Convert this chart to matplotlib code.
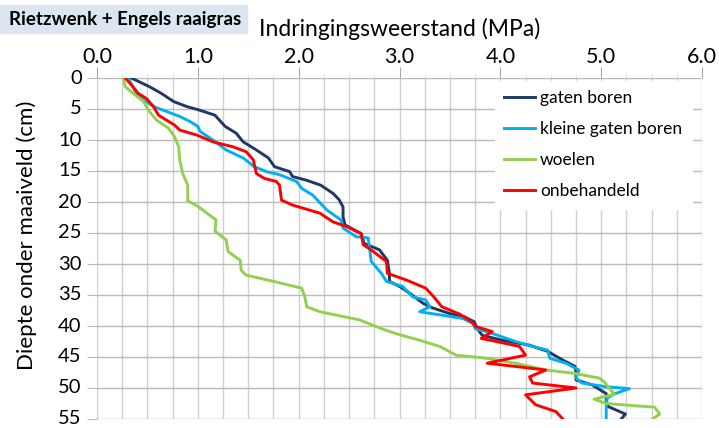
import matplotlib
matplotlib.use("Agg")
import matplotlib.pyplot as plt
from matplotlib.patches import Rectangle
from matplotlib.ticker import MultipleLocator

plt.rcParams["font.family"] = ["Lato", "DejaVu Sans"]

# depth (cm) and penetration resistance (MPa) per treatment
depth_gaten = [0, 1.4, 2.5, 3.8, 4.6, 5.2, 6.0, 7.8, 8.9, 10.3, 11.6, 12.9, 14.3, 15.1, 15.9,
               16.5, 17.3, 18.6, 19.6, 20.8, 22.4, 23.7, 25.1, 26.7, 27.7, 29.4, 31.5, 32.8,
               33.6, 34.7, 36.3, 37.1, 38.0, 38.5, 39.3, 40.4, 41.5, 42.3, 43.1, 44.1, 45.5,
               46.5, 47.4, 48.7, 49.5, 50.9, 52.5, 53.0, 54.2, 55]
mpa_gaten = [0.34, 0.52, 0.64, 0.76, 0.89, 1.02, 1.17, 1.27, 1.38, 1.45, 1.58, 1.70, 1.76, 1.91,
             1.94, 2.08, 2.22, 2.34, 2.40, 2.44, 2.44, 2.46, 2.62, 2.65, 2.80, 2.88, 2.90, 2.90,
             3.00, 3.10, 3.23, 3.33, 3.50, 3.64, 3.74, 3.77, 3.82, 4.02, 4.29, 4.47, 4.62, 4.74,
             4.75, 4.75, 4.91, 5.05, 5.05, 5.07, 5.24, 5.20]

depth_klein = [0, 2.5, 3.5, 4.6, 5.4, 6.2, 7.0, 7.8, 8.6, 10.0, 11.6, 12.9, 14.3, 15.1, 15.6,
               16.7, 17.8, 18.9, 21.3, 22.9, 24.2, 25.6, 25.8, 27.2, 29.6, 31.5, 32.8, 33.6,
               35.3, 35.8, 36.9, 37.7, 38.2, 38.8, 39.6, 40.4, 41.2, 42.5, 43.3, 43.9, 45.2,
               46.0, 47.1, 48.4, 49.2, 49.8, 50.1, 50.9, 51.6, 53.0, 55]
mpa_klein = [0.31, 0.39, 0.46, 0.56, 0.69, 0.82, 0.92, 1.00, 1.02, 1.15, 1.28, 1.45, 1.56, 1.68,
             1.81, 1.98, 2.03, 2.14, 2.28, 2.42, 2.44, 2.57, 2.69, 2.70, 2.72, 2.82, 2.87, 3.03,
             3.13, 3.26, 3.30, 3.20, 3.40, 3.63, 3.73, 3.75, 3.92, 4.15, 4.32, 4.47, 4.49, 4.65,
             4.78, 4.75, 4.81, 5.05, 5.28, 5.14, 5.06, 5.05, 5.05]

depth_woelen = [0, 1.4, 2.5, 3.8, 5.4, 6.8, 8.1, 9.5, 11.1, 13.2, 15.4, 17.3, 19.8, 20.7, 22.9,
                24.7, 26.1, 28.0, 29.4, 31.0, 31.8, 32.8, 33.9, 35.2, 36.9, 37.7, 39.0, 40.6,
                41.4, 42.3, 43.3, 44.7, 45.2, 46.0, 47.1, 47.6, 48.4, 49.0, 51.0, 51.8, 52.5,
                53.1, 54.2, 55]
mpa_woelen = [0.26, 0.28, 0.36, 0.46, 0.52, 0.59, 0.71, 0.77, 0.81, 0.82, 0.85, 0.90, 0.90,
              1.00, 1.18, 1.17, 1.28, 1.30, 1.42, 1.43, 1.48, 1.75, 2.03, 2.06, 2.08, 2.21,
              2.60, 2.85, 3.00, 3.20, 3.40, 3.56, 3.86, 4.15, 4.45, 4.72, 4.98, 5.03, 5.13,
              4.93, 5.05, 5.53, 5.58, 5.51]

depth_onbeh = [0, 1.1, 2.5, 3.3, 4.6, 6.0, 6.8, 7.6, 8.4, 9.2, 10.3, 11.1, 11.9, 13.2, 15.4,
               16.2, 16.7, 17.3, 19.7, 20.5, 21.8, 23.2, 24.0, 25.1, 26.9, 27.5, 29.6, 31.5,
               32.6, 33.9, 35.3, 36.9, 38.1, 39.3, 40.1, 40.9, 42.0, 42.5, 43.3, 44.7, 46.0,
               46.6, 47.1, 48.2, 49.2, 50.0, 51.1, 52.7, 53.8, 55]
mpa_onbeh = [0.28, 0.34, 0.41, 0.49, 0.56, 0.61, 0.69, 0.77, 0.82, 0.99, 1.15, 1.35, 1.48,
             1.55, 1.58, 1.66, 1.78, 1.81, 1.83, 1.94, 2.21, 2.34, 2.48, 2.62, 2.64, 2.70,
             2.87, 2.88, 3.07, 3.26, 3.34, 3.42, 3.60, 3.71, 3.76, 3.92, 3.81, 3.96, 4.19,
             4.25, 3.87, 4.19, 4.45, 4.29, 4.32, 4.75, 4.25, 4.35, 4.55, 4.62]

series = [
    ("gaten boren", depth_gaten, mpa_gaten, "#1f3864"),
    ("kleine gaten boren", depth_klein, mpa_klein, "#00b0f0"),
    ("woelen", depth_woelen, mpa_woelen, "#92d050"),
    ("onbehandeld", depth_onbeh, mpa_onbeh, "#ff0000"),
]

fig = plt.figure(figsize=(7.19, 4.28), dpi=100)
ax = fig.add_axes([97 / 719, 1 - 419 / 428, 605 / 719, 341 / 428])

for name, d, v, c in series:
    ax.plot(v, d, color=c, lw=2.1, label=name, solid_joinstyle="round")

ax.set_xlim(0, 6)
ax.set_ylim(55, 0)
ax.xaxis.tick_top()
ax.xaxis.set_label_position("top")
ax.xaxis.set_major_locator(MultipleLocator(1))
ax.xaxis.set_minor_locator(MultipleLocator(0.25))
ax.yaxis.set_major_locator(MultipleLocator(5))
ax.set_xticklabels([f"{t:.1f}" for t in ax.get_xticks()])

ax.grid(which="major", axis="y", color="#bababa", lw=1)
ax.grid(which="both", axis="x", color="#d0d0d0", lw=1)
ax.set_axisbelow(True)
for s in ax.spines.values():
    s.set_visible(False)

ax.tick_params(axis="x", which="major", length=8, color="#a6a6a6", labelsize=15.5, pad=0)
ax.tick_params(axis="x", which="minor", length=3, color="#d9d9d9")
ax.tick_params(axis="y", length=7, color="#bababa", labelsize=14.5, pad=4)
for lbl in ax.get_yticklabels():
    lbl.set_verticalalignment("center")

ax.set_xlabel("Indringingsweerstand (MPa)", fontsize=16.5, labelpad=8)
ax.set_ylabel("Diepte onder maaiveld (cm)", fontsize=16)
ax.yaxis.set_label_coords(-0.099, 0.54)

ax.legend(loc="upper left", bbox_to_anchor=(0.643, 1.018), fontsize=12.5,
          frameon=True, fancybox=False, framealpha=1, edgecolor="white",
          handlelength=1.8, handletextpad=0.25, labelspacing=0.87,
          borderpad=0.55)

fig.patches.append(Rectangle((0, 1 - 33 / 428), 247 / 719, 28 / 428,
                             transform=fig.transFigure, color="#dce6f2", zorder=0))
fig.text(9 / 719, 1 - 19 / 428, "Rietzwenk + Engels raaigras", fontsize=13.5,
         fontweight="bold", va="center", ha="left")

fig.savefig("out.png", dpi=100)
